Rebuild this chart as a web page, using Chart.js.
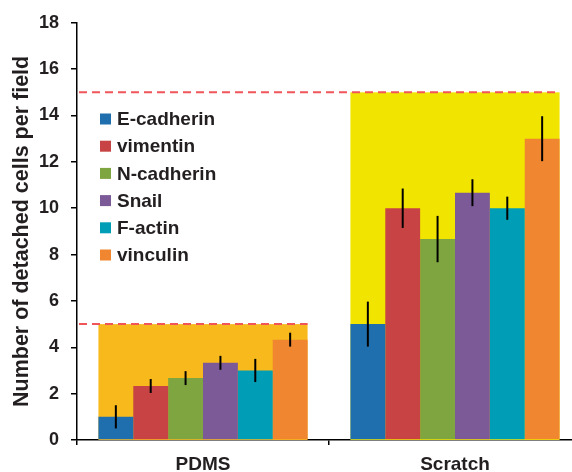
<!DOCTYPE html>
<html>
<head>
<meta charset="utf-8">
<script src="https://cdn.jsdelivr.net/npm/chart.js"></script>
<style>
  html, body { margin: 0; padding: 0; background: #fff; overflow: hidden; }
  #wrap { width: 582px; height: 472px; position: relative; }
</style>
</head>
<body>
<div id="wrap"><canvas id="chart"></canvas></div>
<script>
// ==================== DATA ====================
const categories = ['PDMS', 'Scratch'];
const seriesNames = ['E-cadherin', 'vimentin', 'N-cadherin', 'Snail', 'F-actin', 'vinculin'];
const seriesColors = ['#1F6FAE', '#C84343', '#7EA540', '#7B5A97', '#009DB6', '#F0862F'];

const pdmsMeans = [1.0, 2.33, 2.67, 3.33, 3.0, 4.33];
const pdmsErr = [0.5, 0.3, 0.3, 0.3, 0.5, 0.3];
const scratchMeans = [5.0, 10.0, 8.67, 10.67, 10.0, 13.0];
const scratchErr = [0.97, 0.85, 1.0, 0.58, 0.5, 0.97];

// reference level (box height + dashed line) for each category
const boxLevels = [5, 15];
const boxColors = ['#F8B91C', '#F1E500'];

const yTicks = [0, 2, 4, 6, 8, 10, 12, 14, 16, 18];

const FONT = "'Liberation Sans', Arial, sans-serif";
const TEXT = '#231F20';

// ==================== PLUGINS ====================
const boxPlugin = {
    id: 'boxes',
    beforeDatasetsDraw(chart) {
        const ctx = chart.ctx;
        const y = chart.scales.y;
        const first = chart.getDatasetMeta(0).data;
        const last = chart.getDatasetMeta(seriesNames.length - 1).data;
        categories.forEach((c, i) => {
            const x0 = first[i].x - first[i].width / 2;
            const x1 = last[i].x + last[i].width / 2;
            const yTop = y.getPixelForValue(boxLevels[i]);
            const yBot = y.getPixelForValue(0);
            ctx.save();
            ctx.fillStyle = boxColors[i];
            ctx.fillRect(x0, yTop, x1 - x0, yBot - yTop);
            // dashed reference line
            ctx.strokeStyle = '#F0555A';
            ctx.lineWidth = 2;
            ctx.setLineDash([8, 5]);
            ctx.beginPath();
            ctx.moveTo(chart.chartArea.left + 2, yTop);
            ctx.lineTo(x1, yTop);
            ctx.stroke();
            ctx.restore();
        });
    }
};

const errorBarPlugin = {
    id: 'errorBars',
    afterDatasetsDraw(chart) {
        const ctx = chart.ctx;
        const y = chart.scales.y;
        ctx.save();
        ctx.strokeStyle = '#000';
        ctx.lineWidth = 2;
        chart.data.datasets.forEach((ds, di) => {
            chart.getDatasetMeta(di).data.forEach((bar, i) => {
                const v = ds.data[i];
                const e = ds.errors[i];
                ctx.beginPath();
                ctx.moveTo(bar.x, y.getPixelForValue(v - e));
                ctx.lineTo(bar.x, y.getPixelForValue(v + e));
                ctx.stroke();
            });
        });
        ctx.restore();
    }
};

const legendPlugin = {
    id: 'customLegend',
    afterDraw(chart) {
        const ctx = chart.ctx;
        const x = 100, y0 = 119, step = 27.2, sq = 11;
        ctx.save();
        ctx.font = 'bold 19px ' + FONT;
        ctx.textBaseline = 'middle';
        ctx.textAlign = 'left';
        seriesNames.forEach((name, i) => {
            const cy = y0 + i * step;
            ctx.fillStyle = seriesColors[i];
            ctx.fillRect(x, cy - sq / 2, sq, sq);
            ctx.fillStyle = TEXT;
            ctx.fillText(name, x + 17, cy + 1);
        });
        ctx.restore();
    }
};

// ==================== CHART ====================
const datasets = seriesNames.map((name, i) => ({
    label: name,
    data: [pdmsMeans[i], scratchMeans[i]],
    errors: [pdmsErr[i], scratchErr[i]],
    backgroundColor: seriesColors[i],
    borderWidth: 0,
    categoryPercentage: 0.83,
    barPercentage: 1.0
}));

new Chart(document.getElementById('chart'), {
    type: 'bar',
    data: { labels: categories, datasets: datasets },
    plugins: [boxPlugin, errorBarPlugin, legendPlugin],
    options: {
        responsive: true,
        maintainAspectRatio: false,
        animation: false,
        layout: { padding: { top: 20, right: 1, bottom: 0, left: 0 } },
        plugins: {
            legend: { display: false },
            tooltip: { enabled: false }
        },
        scales: {
            x: {
                offset: true,
                afterFit(scale) { scale.height = 32; },
                grid: {
                    drawOnChartArea: false,
                    drawTicks: true,
                    tickLength: 5,
                    color: '#000',
                    lineWidth: 1.5,
                    offset: true
                },
                border: { color: '#000', width: 1.5 },
                ticks: {
                    padding: 8,
                    color: TEXT,
                    font: { family: FONT, size: 19, weight: 'bold' }
                }
            },
            y: {
                min: 0,
                max: 18,
                afterFit(scale) { scale.width = 77; },
                afterBuildTicks(scale) { scale.ticks = yTicks.map(v => ({ value: v })); },
                grid: {
                    drawOnChartArea: false,
                    drawTicks: true,
                    tickLength: 6,
                    color: '#000',
                    lineWidth: 1.5
                },
                border: { color: '#000', width: 1.5 },
                ticks: {
                    padding: 12,
                    color: TEXT,
                    font: { family: FONT, size: 18, weight: 'bold' }
                },
                title: {
                    display: true,
                    text: 'Number of detached cells per field',
                    color: TEXT,
                    padding: { top: 9, bottom: 0 },
                    font: { family: FONT, size: 21.5, weight: 'bold' }
                }
            }
        }
    }
});
</script>
</body>
</html>
